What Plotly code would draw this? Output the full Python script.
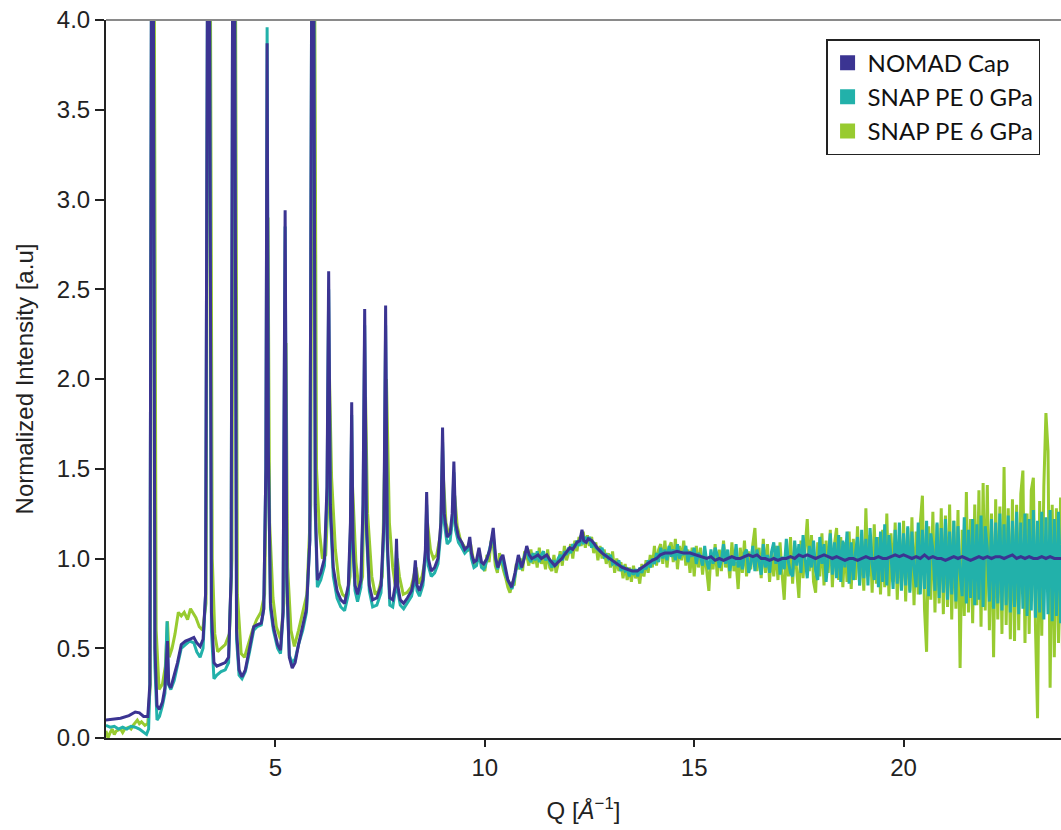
import plotly.graph_objects as go

# ---------------- data ----------------
# NOMAD Cap, explicit (Q, I) pairs up to 15.2 1/A
NOMAD_Q = [0.95, 1.1, 1.3, 1.5, 1.65, 1.75, 1.85, 1.95, 2.0, 2.04, 2.08, 2.12, 2.17, 2.23, 2.3, 2.36,
           2.42, 2.45, 2.5, 2.58, 2.66, 2.75, 2.85, 2.95, 3.05, 3.12, 3.2, 3.27, 3.33, 3.38, 3.42, 3.47,
           3.53, 3.6, 3.7, 3.8, 3.88, 3.94, 3.98, 4.02, 4.07, 4.13, 4.2, 4.28, 4.38, 4.48, 4.56, 4.66,
           4.72, 4.77, 4.8, 4.83, 4.88, 4.95, 5.05, 5.12, 5.18, 5.23, 5.27, 5.33, 5.4, 5.47, 5.55, 5.65,
           5.74, 5.82, 5.87, 5.91, 5.95, 6.0, 6.08, 6.17, 6.23, 6.27, 6.31, 6.38, 6.47, 6.56, 6.65, 6.74,
           6.79, 6.82, 6.85, 6.9, 6.96, 7.04, 7.09, 7.13, 7.17, 7.24, 7.32, 7.42, 7.52, 7.59, 7.63, 7.67,
           7.73, 7.8, 7.86, 7.89, 7.92, 7.98, 8.06, 8.15, 8.25, 8.3, 8.34, 8.38, 8.44, 8.52, 8.58, 8.61,
           8.65, 8.72, 8.8, 8.88, 8.95, 8.99, 9.03, 9.1, 9.17, 9.22, 9.26, 9.3, 9.37, 9.45, 9.52, 9.6,
           9.64, 9.68, 9.74, 9.8, 9.86, 9.92, 9.97, 10.05, 10.12, 10.2, 10.26, 10.31, 10.38, 10.43, 10.5,
           10.55, 10.64, 10.72, 10.8, 10.88, 10.94, 11.0, 11.06, 11.12, 11.2, 11.27, 11.35, 11.42, 11.48,
           11.56, 11.62, 11.67, 11.75, 11.84, 11.93, 12.03, 12.1, 12.2, 12.27, 12.32, 12.36, 12.42, 12.47,
           12.55, 12.62, 12.68, 12.8, 12.92, 13.04, 13.16, 13.28, 13.4, 13.52, 13.64, 13.76, 13.88, 14.0,
           14.1, 14.19, 14.3, 14.45, 14.59, 14.75, 14.9, 15.05, 15.2]
NOMAD_I = [0.10, 0.105, 0.11, 0.125, 0.145, 0.14, 0.12, 0.12, 0.3, 4.6, 4.6, 0.5, 0.18, 0.16, 0.2, 0.28,
           0.54, 0.3, 0.28, 0.35, 0.42, 0.52, 0.54, 0.55, 0.56, 0.53, 0.51, 0.55, 0.8, 4.6, 4.6, 0.7,
           0.42, 0.40, 0.41, 0.42, 0.45, 0.9, 4.6, 4.6, 0.6, 0.38, 0.34, 0.38, 0.5, 0.62, 0.63, 0.64,
           0.72, 1.5, 3.87, 1.6, 0.75, 0.62, 0.52, 0.49, 0.7, 2.94, 0.9, 0.45, 0.39, 0.42, 0.52, 0.62,
           0.72, 1.1, 4.6, 4.6, 1.3, 0.88, 0.92, 1.0, 1.4, 2.6, 1.3, 0.95, 0.82, 0.77, 0.75, 0.85,
           1.2, 1.87, 1.1, 0.85, 0.8, 0.88, 1.3, 2.39, 1.2, 0.85, 0.77, 0.78, 0.85, 1.2, 2.41, 1.1,
           0.78, 0.77, 0.85, 1.11, 0.85, 0.77, 0.75, 0.78, 0.82, 0.88, 0.99, 0.85, 0.82, 0.88, 1.05, 1.37,
           1.0, 0.93, 0.95, 1.0, 1.2, 1.73, 1.25, 1.12, 1.14, 1.25, 1.54, 1.2, 1.12, 1.09, 1.05, 1.07,
           1.12, 1.03, 0.98, 0.99, 1.06, 0.98, 0.97, 1.0, 1.05, 1.17, 1.0, 0.95, 1.0, 1.02, 0.93,
           0.88, 0.84, 0.92, 1.02, 0.95, 1.0, 1.07, 1.02, 1.0, 1.01, 1.02, 1.0, 1.01, 1.02,
           0.99, 0.97, 0.96, 0.98, 1.0, 1.03, 1.06, 1.05, 1.09, 1.1, 1.16, 1.1, 1.09, 1.11,
           1.1, 1.08, 1.06, 1.03, 1.01, 0.99, 0.97, 0.95, 0.94, 0.93, 0.93, 0.95, 0.97, 0.99,
           1.0, 1.02, 1.03, 1.03, 1.04, 1.03, 1.03, 1.02, 1.01]
# NOMAD Cap beyond 15.3 1/A, binned every 0.1 1/A
NOMAD_TAIL_START, NOMAD_TAIL_STEP = 15.3, 0.1
NOMAD_TAIL_I = [1.0, 1.01, 0.99, 1.0, 0.99, 1.0, 1.01, 1.0, 1.0, 1.01,
                1.02, 1.01, 1.02, 1.0, 1.0, 0.99, 1.0, 0.99, 1.0, 1.0,
                1.01, 1.0, 1.02, 1.01, 1.02, 1.01, 1.0, 1.01, 1.02, 1.01,
                1.0, 1.01, 1.0, 0.99, 1.0, 1.0, 0.99, 1.0, 1.01, 1.0,
                1.0, 1.01, 1.0, 1.0, 1.01, 1.02, 1.01, 1.02, 1.01, 1.0,
                1.01, 1.0, 1.02, 1.0, 1.01, 1.0, 1.0, 0.99, 1.0, 1.01,
                1.0, 1.01, 1.0, 0.99, 1.0, 1.01, 1.0, 1.01, 1.0, 1.01,
                1.01, 1.0, 1.01, 1.02, 1.0, 1.01, 1.0, 1.01, 1.0, 1.0,
                1.01, 1.0, 1.01, 1.0, 1.0, 1.0]

# SNAP PE 0 GPa, explicit pairs below 10 1/A
SNAP0_Q = [0.95, 1.05, 1.15, 1.25, 1.35, 1.45, 1.55, 1.65, 1.75, 1.85, 1.92, 1.97, 2.0, 2.04, 2.08, 2.12,
           2.17, 2.23, 2.3, 2.36, 2.41, 2.44, 2.5, 2.58, 2.66, 2.75, 2.85, 2.95, 3.05, 3.12, 3.2, 3.27,
           3.33, 3.38, 3.42, 3.47, 3.53, 3.6, 3.7, 3.8, 3.88, 3.94, 3.98, 4.02, 4.07, 4.13, 4.2, 4.28,
           4.38, 4.48, 4.56, 4.66, 4.72, 4.77, 4.8, 4.83, 4.88, 4.95, 5.05, 5.12, 5.18, 5.23, 5.27, 5.33,
           5.4, 5.47, 5.55, 5.65, 5.74, 5.82, 5.87, 5.91, 5.95, 6.0, 6.08, 6.17, 6.23, 6.27, 6.31, 6.38,
           6.47, 6.56, 6.65, 6.74, 6.79, 6.82, 6.85, 6.9, 6.96, 7.04, 7.09, 7.13, 7.17, 7.24, 7.32, 7.42,
           7.52, 7.59, 7.63, 7.67, 7.73, 7.8, 7.86, 7.89, 7.92, 7.98, 8.06, 8.15, 8.25, 8.3, 8.34, 8.38,
           8.44, 8.52, 8.58, 8.61, 8.65, 8.72, 8.8, 8.88, 8.95, 8.99, 9.03, 9.1, 9.17, 9.22, 9.26, 9.3,
           9.37, 9.45, 9.52, 9.6, 9.64, 9.68, 9.74, 9.8, 9.86, 9.92, 9.97]
SNAP0_I = [0.07, 0.06, 0.065, 0.05, 0.06, 0.05, 0.065, 0.06, 0.05, 0.03, 0.02, 0.05, 0.3, 4.6, 4.6, 0.4,
           0.1, 0.12, 0.18, 0.25, 0.65, 0.3, 0.27, 0.32, 0.4, 0.5, 0.52, 0.54, 0.53, 0.48, 0.45, 0.5,
           0.8, 4.6, 4.6, 0.6, 0.33, 0.35, 0.37, 0.38, 0.42, 0.9, 4.6, 4.6, 0.55, 0.35, 0.33, 0.37,
           0.48, 0.6, 0.62, 0.63, 0.72, 1.5, 3.96, 1.6, 0.72, 0.6, 0.5, 0.47, 0.68, 2.85, 0.85, 0.46,
           0.42, 0.44, 0.52, 0.6, 0.7, 1.1, 4.6, 4.6, 1.25, 0.84, 0.88, 0.96, 1.35, 2.5, 1.25, 0.9,
           0.78, 0.73, 0.71, 0.8, 1.15, 1.8, 1.05, 0.82, 0.76, 0.84, 1.25, 2.3, 1.15, 0.82, 0.73, 0.74,
           0.81, 1.15, 2.3, 1.05, 0.74, 0.73, 0.82, 1.05, 0.82, 0.74, 0.72, 0.75, 0.79, 0.85, 0.95, 0.82,
           0.79, 0.85, 1.0, 1.3, 0.96, 0.9, 0.92, 0.97, 1.15, 1.65, 1.2, 1.08, 1.1, 1.2, 1.48, 1.16,
           1.09, 1.06, 1.03, 1.05, 1.09, 1.0, 0.95, 0.96, 1.03, 0.95, 0.94]
# SNAP PE 0 GPa from 10 1/A, binned every 0.05 1/A
NOISE_START, NOISE_STEP = 10.0, 0.05
SNAP0_NOISE_I = [
    0.95, 0.99, 1.04, 1.09, 1.13, 1.01, 0.94, 0.97, 1.01, 0.96,
    0.91, 0.88, 0.85, 0.83, 0.88, 0.95, 1.0, 0.94, 0.97, 1.02,
    1.05, 1.0, 0.98, 1.03, 0.99, 1.04, 0.98, 1.02, 1.04, 0.99,
    1.01, 0.98, 0.95, 0.99, 0.96, 1.0, 1.02, 0.99, 1.04, 1.02,
    1.06, 1.03, 1.08, 1.06, 1.1, 1.07, 1.13, 1.08, 1.12, 1.1,
    1.12, 1.06, 1.09, 1.06, 1.05, 1.04, 1.06, 1.01, 1.02, 1.0,
    1.02, 0.97, 0.98, 0.96, 0.99, 0.93, 0.96, 0.93, 0.94, 0.9,
    0.94, 0.91, 0.94, 0.9, 0.95, 0.92, 0.96, 0.94, 0.99, 0.95,
    1.0, 0.97, 1.03, 0.98, 1.06, 1.0, 1.05, 0.99, 1.07, 1.01,
    1.05, 0.99, 1.08, 1.0, 1.04, 1.02, 1.07, 0.98, 1.04, 1.01,
    1.06, 0.97, 1.03, 1.01, 0.96, 1.07, 0.98, 0.94, 1.05, 0.97,
    1.06, 1.02, 0.95, 0.99, 1.08, 0.97, 1.05, 0.93, 1.01, 0.96,
    1.08, 0.95, 1.0, 0.94, 1.03, 1.05, 0.92, 0.97, 1.07, 0.93,
    1.05, 0.98, 0.91, 1.08, 0.95, 1.02, 0.92, 1.04, 1.09, 0.97,
    1.07, 0.91, 1.01, 0.94, 1.11, 0.98, 0.92, 0.9, 1.1, 0.96,
    1.08, 0.92, 1.13, 1.0, 0.89, 1.07, 0.95, 1.1, 0.93, 0.88,
    1.12, 0.97, 1.08, 0.87, 1.01, 1.14, 0.91, 1.09, 0.89, 1.13,
    0.87, 1.1, 0.95, 1.15, 0.86, 1.09, 0.88, 1.03, 1.12, 0.85,
    1.16, 0.89, 1.11, 0.85, 1.17, 0.97, 0.88, 1.12, 0.84, 1.15,
    0.87, 1.19, 0.85, 1.13, 1.02, 0.83, 1.16, 0.86, 1.2, 0.82,
    1.14, 0.85, 1.18, 0.81, 1.15, 0.94, 0.84, 1.2, 0.8, 1.16,
    0.83, 1.21, 0.79, 1.14, 1.05, 0.82, 1.2, 0.78, 1.17, 0.81,
    1.22, 0.77, 1.15, 0.8, 1.21, 0.76, 1.18, 0.92, 0.79, 1.23,
    0.75, 1.16, 0.78, 1.22, 0.74, 1.19, 0.77, 1.24, 0.73, 1.18,
    1.06, 0.76, 1.22, 0.72, 1.2, 0.75, 1.25, 0.71, 1.19, 0.74,
    1.24, 0.7, 1.21, 0.73, 1.26, 0.69, 1.2, 0.72, 1.25, 0.68,
    1.22, 0.71, 1.27, 0.67, 1.21, 0.7, 1.26, 0.66, 1.23, 0.69,
    1.27, 0.65, 1.22, 0.68, 1.26, 0.64, 1.24]

# SNAP PE 6 GPa, explicit pairs below 10 1/A
SNAP6_Q = [0.95, 1.0, 1.05, 1.1, 1.15, 1.2, 1.3, 1.35, 1.4, 1.5, 1.55, 1.6, 1.7, 1.75, 1.8, 1.88,
           1.95, 2.01, 2.05, 2.1, 2.15, 2.22, 2.3, 2.37, 2.42, 2.46, 2.53, 2.6, 2.68, 2.75, 2.82, 2.9,
           2.97, 3.03, 3.1, 3.18, 3.26, 3.34, 3.39, 3.44, 3.49, 3.55, 3.62, 3.7, 3.8, 3.9, 3.96, 4.0,
           4.04, 4.09, 4.18, 4.26, 4.35, 4.45, 4.55, 4.65, 4.74, 4.79, 4.82, 4.86, 4.94, 5.02, 5.12, 5.2,
           5.25, 5.29, 5.37, 5.45, 5.55, 5.65, 5.75, 5.84, 5.89, 5.93, 5.98, 6.05, 6.12, 6.2, 6.25, 6.29,
           6.34, 6.43, 6.52, 6.6, 6.7, 6.78, 6.82, 6.86, 6.92, 7.0, 7.08, 7.12, 7.15, 7.2, 7.3, 7.38,
           7.46, 7.55, 7.61, 7.65, 7.72, 7.8, 7.86, 7.91, 7.96, 8.05, 8.14, 8.24, 8.32, 8.36, 8.42, 8.5,
           8.58, 8.63, 8.7, 8.77, 8.85, 8.93, 9.01, 9.07, 9.15, 9.21, 9.28, 9.34, 9.42, 9.5, 9.58, 9.66,
           9.72, 9.78, 9.85, 9.92]
SNAP6_I = [0.04, 0.0, 0.03, 0.05, 0.02, 0.04, 0.05, 0.03, 0.05, 0.06, 0.05, 0.07, 0.1, 0.08, 0.09, 0.07,
           0.08, 0.3, 4.6, 4.6, 0.6, 0.27, 0.3, 0.4, 0.65, 0.45, 0.5, 0.58, 0.7, 0.68, 0.7, 0.66,
           0.72, 0.7, 0.67, 0.62, 0.6, 0.75, 4.6, 4.6, 1.0, 0.58, 0.48, 0.5, 0.52, 0.58, 1.0, 4.6,
           4.6, 0.8, 0.47, 0.45, 0.52, 0.6, 0.66, 0.7, 0.8, 1.6, 2.9, 1.2, 0.78, 0.62, 0.55, 0.75,
           2.2, 0.95, 0.6, 0.51, 0.6, 0.7, 0.8, 1.3, 4.6, 4.6, 1.5, 1.15, 1.0, 1.02, 1.3, 2.0,
           1.45, 1.05, 0.86, 0.8, 0.78, 0.9, 1.5, 1.3, 0.98, 0.82, 0.9, 1.6, 1.9, 1.25, 0.9, 0.8,
           0.82, 0.9, 1.5, 2.0, 1.2, 0.95, 0.85, 1.0, 0.9, 0.8, 0.81, 0.84, 0.92, 0.95, 0.86, 0.9,
           1.0, 1.2, 1.05, 1.0, 1.02, 1.12, 1.45, 1.2, 1.12, 1.18, 1.35, 1.18, 1.1, 1.07, 1.04, 1.08,
           1.0, 0.96, 1.02, 0.97]
# SNAP PE 6 GPa from 10 1/A, binned every 0.05 1/A
SNAP6_NOISE_I = [
    0.93, 1.02, 0.98, 1.1, 1.08, 0.96, 0.92, 1.03, 0.97, 0.93,
    0.89, 0.84, 0.81, 0.86, 0.85, 0.97, 0.94, 1.0, 0.93, 1.04,
    1.02, 0.96, 1.05, 0.97, 1.03, 0.95, 1.06, 0.97, 1.01, 0.94,
    1.05, 0.95, 0.93, 1.02, 0.92, 0.97, 1.04, 0.96, 1.07, 0.99,
    1.03, 1.08, 1.0, 1.1, 1.04, 1.12, 1.07, 1.15, 1.06, 1.13,
    1.07, 1.12, 1.03, 1.09, 0.99, 1.07, 1.0, 1.05, 0.97, 1.03,
    0.95, 1.04, 0.92, 1.0, 0.93, 0.98, 0.89, 0.97, 0.88, 0.95,
    0.87, 0.96, 0.89, 0.93, 0.86, 0.97, 0.9, 0.99, 0.92, 1.02,
    0.95, 1.07, 0.96, 1.05, 1.08, 0.97, 1.1, 0.95, 1.06, 1.09,
    0.98, 1.11, 0.94, 1.07, 0.99, 1.1, 0.96, 1.05, 0.92, 1.06,
    0.9, 1.07, 0.95, 1.06, 0.91, 1.04, 0.93, 0.82, 1.03, 0.94,
    1.08, 0.9, 1.05, 0.93, 1.1, 0.95, 1.02, 0.89, 1.09, 0.93,
    0.98, 0.83, 1.06, 0.92, 1.1, 0.9, 1.04, 0.94, 1.08, 1.17,
    0.93, 1.06, 0.89, 1.11, 0.92, 1.08, 0.87, 1.04, 0.9, 1.07,
    0.88, 1.09, 0.91, 0.77, 1.05, 0.9, 1.12, 0.86, 1.07, 0.92,
    0.78, 1.1, 0.89, 1.06, 1.22, 0.93, 1.13, 0.87, 0.81, 1.09,
    0.9, 1.14, 0.85, 1.1, 0.92, 1.16, 0.84, 1.08, 1.17, 0.88,
    1.12, 0.84, 1.09, 0.87, 1.15, 0.83, 1.11, 0.88, 1.18, 0.85,
    1.1, 0.82, 1.28, 0.9, 1.13, 0.81, 1.19, 0.86, 1.12, 0.8,
    1.16, 0.84, 1.25, 0.79, 1.14, 0.87, 1.2, 0.77, 1.13, 0.83,
    1.21, 0.76, 1.17, 0.82, 1.23, 0.74, 1.15, 0.8, 1.2, 1.35,
    0.72, 0.48, 1.18, 0.77, 1.26, 0.7, 1.19, 0.75, 1.28, 0.69,
    1.24, 0.73, 1.3, 0.66, 1.21, 0.72, 1.27, 0.39, 1.16, 0.68,
    1.37, 0.7, 1.22, 0.64, 1.3, 0.74, 1.38, 0.62, 1.42, 0.71,
    1.41, 0.6, 1.25, 0.45, 1.33, 0.66, 1.29, 0.58, 1.51, 0.63,
    1.28, 0.55, 1.33, 0.54, 1.3, 0.6, 1.36, 1.49, 0.53, 1.25,
    0.58, 1.38, 1.45, 0.62, 0.11, 1.32, 0.57, 1.4, 1.81, 1.6,
    0.28, 1.3, 0.45, 1.28, 0.53, 1.34, 0.41]

SERIES_NAMES = ["NOMAD Cap", "SNAP PE 0 GPa", "SNAP PE 6 GPa"]
COLORS = {"NOMAD Cap": "#3b3492", "SNAP PE 0 GPa": "#22b1aa", "SNAP PE 6 GPa": "#98cb30"}
Y_TICKS = [0.0, 0.5, 1.0, 1.5, 2.0, 2.5, 3.0, 3.5, 4.0]
X_TICKS = [5, 10, 15, 20]


def binned(start, step, values):
    return [round(start + step * i, 3) for i in range(len(values))]


nomad_q = NOMAD_Q + binned(NOMAD_TAIL_START, NOMAD_TAIL_STEP, NOMAD_TAIL_I)
nomad_i = NOMAD_I + NOMAD_TAIL_I
snap0_q = SNAP0_Q + binned(NOISE_START, NOISE_STEP, SNAP0_NOISE_I)
snap0_i = SNAP0_I + SNAP0_NOISE_I
snap6_q = SNAP6_Q + binned(NOISE_START, NOISE_STEP, SNAP6_NOISE_I)
snap6_i = SNAP6_I + SNAP6_NOISE_I

fig = go.Figure()
for name, q, inten in [("SNAP PE 6 GPa", snap6_q, snap6_i),
                       ("SNAP PE 0 GPa", snap0_q, snap0_i),
                       ("NOMAD Cap", nomad_q, nomad_i)]:
    fig.add_trace(go.Scatter(x=q, y=inten, mode="lines", name=name, showlegend=False,
                             line=dict(color=COLORS[name], width=3), hoverinfo="skip"))
# legend entries drawn as filled squares
for name in SERIES_NAMES:
    fig.add_trace(go.Scatter(x=[None], y=[None], mode="markers", name=name,
                             marker=dict(symbol="square", size=15, color=COLORS[name])))

axis_font = dict(family="Liberation Sans, Arial, sans-serif", size=24, color="#222")
fig.update_layout(
    width=1061, height=830,
    margin=dict(l=106, r=0, t=20, b=92),
    plot_bgcolor="white", paper_bgcolor="white",
    font=axis_font,
    showlegend=True,
    legend=dict(x=0.754, y=0.9735, xanchor="left", yanchor="top",
                bgcolor="white", bordercolor="#222", borderwidth=1.5,
                font=dict(family="Lato, Open Sans, sans-serif", size=24, color="#111"),
                itemsizing="trace"),
    xaxis=dict(range=[0.952, 23.76], tickvals=X_TICKS, ticks="outside", ticklen=7, tickwidth=1.5,
               tickcolor="#222", showline=True, linecolor="#222", linewidth=2, showgrid=False,
               zeroline=False, tickfont=axis_font,
               title=dict(text="Q [<i>Å</i><sup>−1</sup>]", font=axis_font, standoff=22)),
    yaxis=dict(range=[0, 4], tickvals=Y_TICKS, tickformat=".1f", ticks="outside", ticklen=9,
               tickwidth=1.5, tickcolor="#222", showline=True, linecolor="#222", linewidth=2,
               showgrid=False, zeroline=False, tickfont=axis_font,
               title=dict(text="Normalized Intensity [a.u]", font=axis_font, standoff=16)),
    shapes=[dict(type="line", xref="paper", yref="paper", x0=0, x1=1, y0=1, y1=1,
                 line=dict(color="#8a8a8a", width=2))],
)

fig.write_html("out.html")
